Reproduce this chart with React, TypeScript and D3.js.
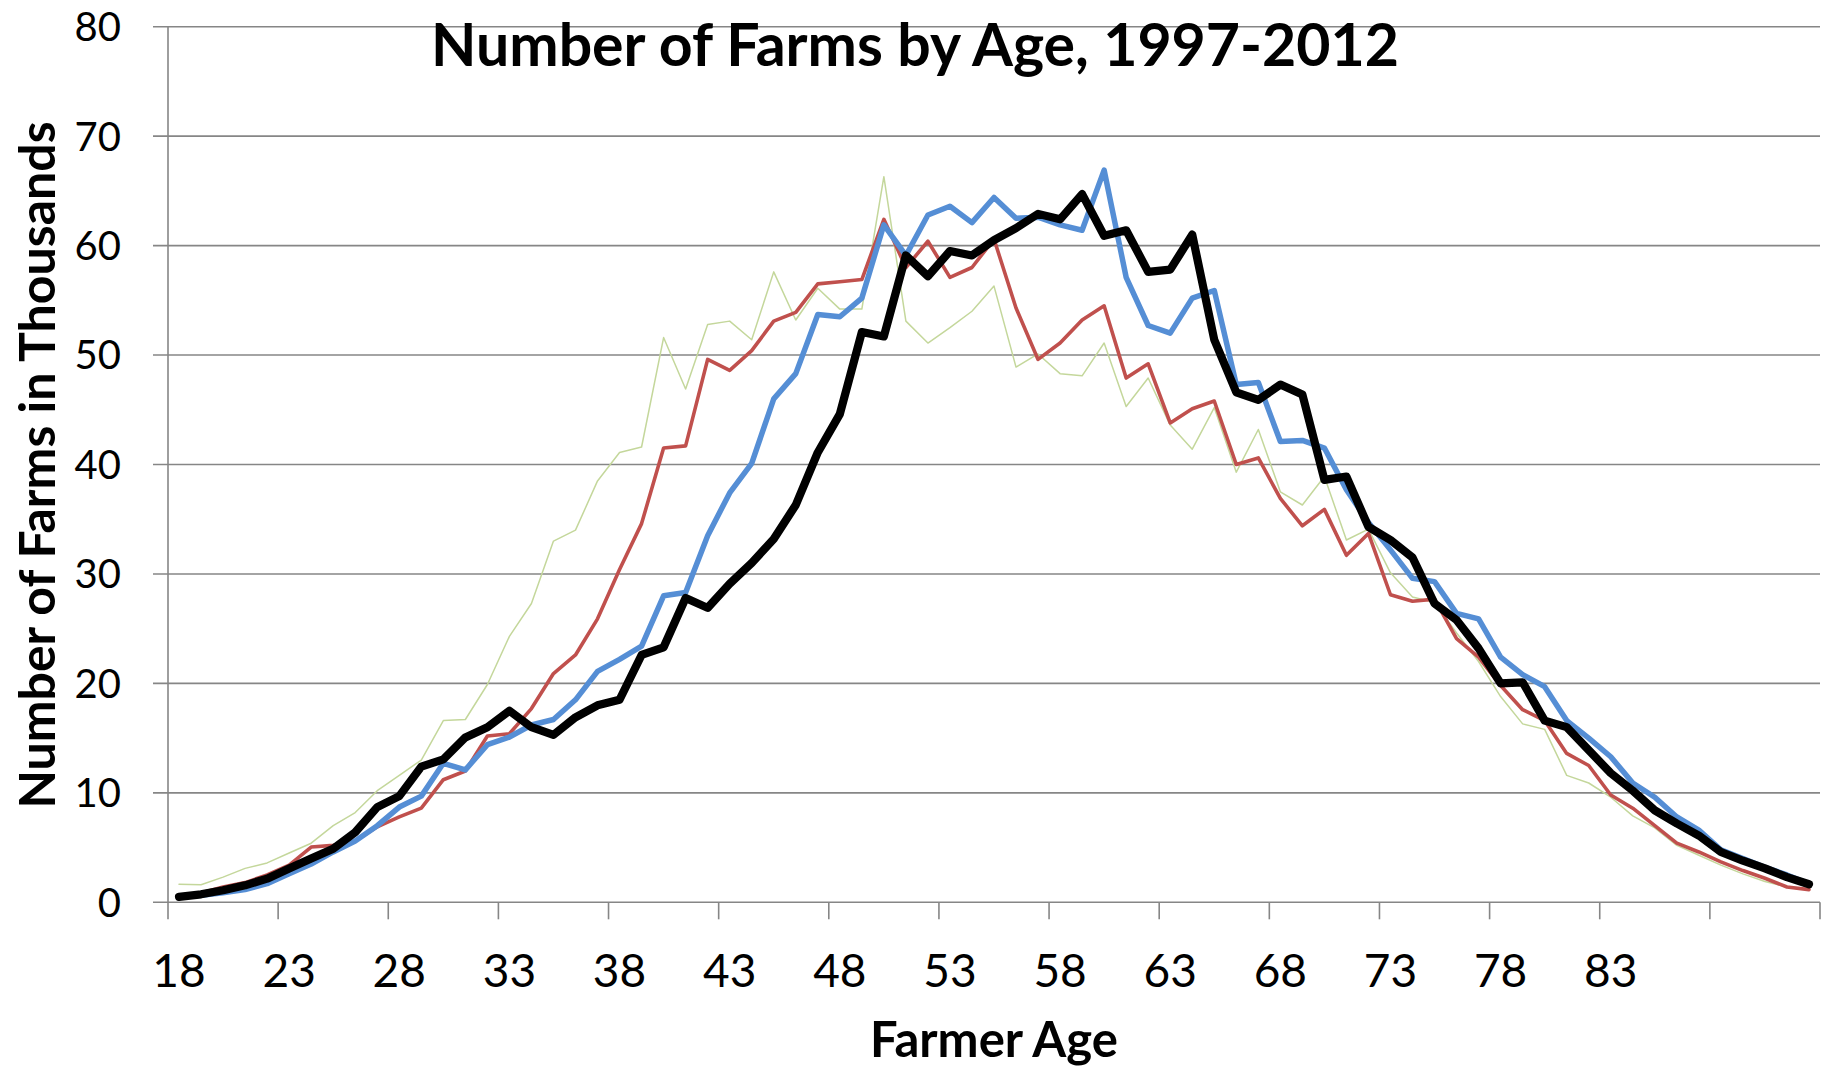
import React from "react";
import * as d3 from "d3";

// farmer ages shown on the category axis (one band each)
const ages = [
  18, 19, 20, 21, 22, 23, 24, 25, 26, 27, 28, 29, 30, 31, 32, 33, 34, 35, 36, 37,
  38, 39, 40, 41, 42, 43, 44, 45, 46, 47, 48, 49, 50, 51, 52, 53, 54, 55, 56, 57,
  58, 59, 60, 61, 62, 63, 64, 65, 66, 67, 68, 69, 70, 71, 72, 73, 74, 75, 76, 77,
  78, 79, 80, 81, 82, 83, 84, 85, 86, 87, 88, 89, 90, 91, 92,
];

// only these categories get a label
const tickLabels = ["18", "23", "28", "33", "38", "43", "48", "53", "58", "63", "68", "73", "78", "83"];

const yTicks = [0, 10, 20, 30, 40, 50, 60, 70, 80];

// number of farms (thousands) by age
const farms1997 = [
  1.65, 1.6, 2.3, 3.1, 3.6, 4.5, 5.4, 7.0, 8.2, 10.2, 11.6, 13.0, 16.6, 16.7, 19.9, 24.3, 27.3, 33.0, 34.0, 38.5,
  41.1, 41.6, 51.6, 46.9, 52.8, 53.1, 51.4, 57.6, 53.2, 56.1, 54.2, 54.2, 66.3, 53.1, 51.1, 52.5, 54.0, 56.3, 48.9, 50.1,
  48.3, 48.1, 51.1, 45.3, 47.9, 43.6, 41.4, 45.2, 39.3, 43.2, 37.5, 36.3, 38.9, 33.1, 34.1, 30.1, 27.9, 27.4, 24.6, 22.0,
  18.8, 16.3, 15.8, 11.6, 10.9, 9.6, 7.9, 6.8, 5.2, 4.3, 3.4, 2.6, 1.9, 1.4, 1.16,
];
const farms2002 = [
  0.6, 0.85, 1.4, 1.8, 2.5, 3.4, 5.05, 5.2, 5.6, 6.9, 7.8, 8.6, 11.2, 12.0, 15.2, 15.4, 17.7, 20.9, 22.6, 25.9,
  30.4, 34.6, 41.5, 41.7, 49.6, 48.6, 50.4, 53.1, 53.9, 56.5, 56.7, 56.9, 62.4, 58.0, 60.4, 57.1, 58.0, 60.6, 54.3, 49.6,
  51.1, 53.2, 54.5, 47.9, 49.2, 43.8, 45.1, 45.8, 40.0, 40.6, 36.9, 34.4, 35.9, 31.7, 33.7, 28.1, 27.5, 27.7, 24.1, 22.4,
  19.8, 17.6, 16.6, 13.6, 12.5, 9.8, 8.6, 7.0, 5.4, 4.6, 3.7, 2.9, 2.2, 1.4, 1.16,
];
const farms2007 = [
  0.55, 0.64, 0.88, 1.16, 1.7, 2.6, 3.5, 4.6, 5.6, 7.0, 8.7, 9.7, 12.7, 12.1, 14.4, 15.1, 16.2, 16.7, 18.5, 21.1,
  22.2, 23.4, 28.0, 28.3, 33.5, 37.4, 40.1, 46.0, 48.3, 53.7, 53.5, 55.2, 61.9, 59.1, 62.8, 63.6, 62.1, 64.4, 62.5, 62.6,
  61.9, 61.4, 66.9, 57.1, 52.7, 52.0, 55.2, 55.9, 47.3, 47.5, 42.1, 42.2, 41.5, 37.7, 34.7, 32.2, 29.6, 29.3, 26.4, 25.9,
  22.4, 20.8, 19.7, 16.6, 15.0, 13.3, 10.9, 9.6, 7.8, 6.6, 4.8, 4.0, 3.2, 2.5, 1.7,
];
const farms2012 = [
  0.5, 0.73, 1.1, 1.55, 2.16, 3.08, 4.0, 4.9, 6.4, 8.7, 9.7, 12.4, 13.05, 15.06, 16.0, 17.5, 16.0, 15.3, 16.9, 18.0,
  18.5, 22.6, 23.3, 27.8, 26.9, 29.1, 31.0, 33.2, 36.3, 41.1, 44.6, 52.1, 51.7, 59.1, 57.2, 59.5, 59.1, 60.5, 61.6, 62.9,
  62.4, 64.7, 60.9, 61.4, 57.6, 57.8, 61.0, 51.4, 46.6, 45.9, 47.3, 46.4, 38.6, 38.9, 34.3, 33.1, 31.5, 27.3, 25.8, 23.2,
  20.0, 20.1, 16.6, 16.0, 13.9, 11.8, 10.2, 8.4, 7.2, 6.1, 4.6, 3.8, 3.1, 2.3, 1.65,
];

const series = [
  { name: "1997", values: farms1997, color: "#c4d79b", width: 1.5 },
  { name: "2002", values: farms2002, color: "#c0504d", width: 3.6 },
  { name: "2007", values: farms2007, color: "#558ed5", width: 5.5 },
  { name: "2012", values: farms2012, color: "#000000", width: 8.2 },
];

const W = 1834;
const H = 1070;
const left = 168;
const right = 1820;
const top = 26.7;
const bottom = 902.3;
const FONT = "Lato, 'Open Sans', sans-serif";
const gridColor = "#868686";

export default function App() {
  const x = d3.scaleBand<number>().domain(ages).range([left, right]).padding(0);
  const bw = x.bandwidth();
  const y = d3.scaleLinear().domain([0, 80]).range([bottom, top]);
  const cx = (a: number) => (x(a) ?? 0) + bw / 2;

  const line = d3
    .line<number>()
    .x((_, i) => cx(ages[i]))
    .y((v) => y(v));

  // tick marks every 5 categories, on band boundaries
  const tickIdx = d3.range(0, ages.length + 1, 5);
  const tickX = (i: number) => (i < ages.length ? (x(ages[i]) ?? 0) : right);

  return (
    <svg
      width={W}
      height={H}
      style={{ position: "absolute", left: 0, top: 0, display: "block", background: "#fff" }}
      fontFamily={FONT}
    >
      {/* gridlines + y ticks */}
      {yTicks.map((t) => (
        <line key={"g" + t} x1={left - 15} x2={right} y1={y(t)} y2={y(t)} stroke={gridColor} strokeWidth={1.6} />
      ))}
      <line x1={left} x2={left} y1={top} y2={bottom} stroke={gridColor} strokeWidth={1.6} />
      {tickIdx.map((i) => (
        <line key={"xt" + i} x1={tickX(i)} x2={tickX(i)} y1={bottom} y2={bottom + 17} stroke={gridColor} strokeWidth={1.6} />
      ))}

      {/* y labels */}
      {yTicks.map((t) => (
        <text key={"yl" + t} x={121} y={y(t)} dy="0.36em" textAnchor="end" fontSize={40} fill="#000">
          {t}
        </text>
      ))}

      {/* x labels */}
      {ages.map((a) =>
        tickLabels.includes(String(a)) ? (
          <text key={"xl" + a} x={cx(a)} y={987} textAnchor="middle" fontSize={46} fill="#000">
            {a}
          </text>
        ) : null
      )}

      {/* series */}
      {series.map((s) => (
        <path
          key={s.name}
          d={line(s.values) ?? ""}
          fill="none"
          stroke={s.color}
          strokeWidth={s.width}
          strokeLinejoin="round"
          strokeLinecap="round"
        />
      ))}

      {/* titles */}
      <text x={915} y={66} textAnchor="middle" fontSize={59} fontWeight={700} fill="#000">
        Number of Farms by Age, 1997-2012
      </text>
      <text x={994} y={1057} textAnchor="middle" fontSize={49} fontWeight={700} fill="#000">
        Farmer Age
      </text>
      <text
        transform="translate(55,465) rotate(-90)"
        textAnchor="middle"
        fontSize={50}
        fontWeight={700}
        fill="#000"
      >
        Number of Farms in Thousands
      </text>
    </svg>
  );
}
